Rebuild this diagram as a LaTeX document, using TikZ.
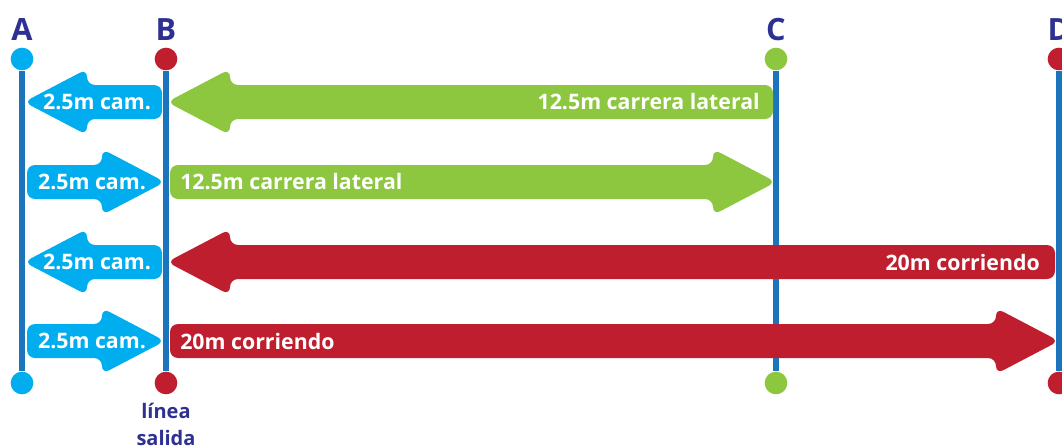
\documentclass[tikz,border=0pt]{standalone}
\usepackage{fontspec}
\setmainfont{Open Sans}
\usetikzlibrary{positioning}
\definecolor{cyanband}{RGB}{0,174,239}
\definecolor{greenband}{RGB}{141,198,63}
\definecolor{redband}{RGB}{190,30,45}
\definecolor{trackblue}{RGB}{28,117,188}
\definecolor{navy}{RGB}{46,49,146}
\tikzset{track/.style={line width=4.5pt,draw=trackblue},dot/.style={circle,fill=#1,minimum size=17pt,inner sep=0pt},letter/.style={font=\bfseries\fontsize{23}{23}\selectfont,text=navy,inner sep=0pt},lbl/.style={font=\bfseries\fontsize{16}{18}\selectfont,text=white,inner sep=0pt},note/.style={font=\bfseries\fontsize{15}{18}\selectfont,text=navy,inner sep=0pt,anchor=base},band/.style={fill=#1,rounded corners=6pt}}
% fat arrows: colour, tail x, tip x, row y
\newcommand{\bandright}[4]{\fill[band=#1] (#2,#4-17) -- (#3-60,#4-17) -- (#3-60,#4-33) -- (#3+3,#4) -- (#3-60,#4+33) -- (#3-60,#4+17) -- (#2,#4+17) -- cycle;}
\newcommand{\bandleft}[4]{\fill[band=#1] (#2,#4-17) -- (#3+60,#4-17) -- (#3+60,#4-33) -- (#3-3,#4) -- (#3+60,#4+33) -- (#3+60,#4+17) -- (#2,#4+17) -- cycle;}
\begin{document}
\begin{tikzpicture}[x=0.75pt,y=-0.75pt]
\useasboundingbox (0,0) rectangle (1062,446);
% lines A to D
\foreach \n/\x/\c in {A/22/cyanband,B/166/redband,C/776/greenband,D/1059/redband}{
  \node[dot=\c] (\n top) at (\x,59) {};
  \node[dot=\c] (\n bot) at (\x,383) {};
  \node[letter] (\n lab) at (\x,30) {\n};
  \draw[track] (\n top) -- (\n bot);
}
% row 1
\bandleft{cyanband}{162}{27}{102}
\bandleft{greenband}{773}{170}{102}
\node[lbl] (cam1) at (97,102) {2.5m cam.};
\node[lbl,anchor=east] (lat1) at (760,102) {12.5m carrera lateral};
% row 2
\bandright{cyanband}{27}{162}{182}
\bandright{greenband}{170}{773}{182}
\node[lbl] (cam2) at (92,182) {2.5m cam.};
\node[lbl,anchor=west] (lat2) at (180,182) {12.5m carrera lateral};
% row 3
\bandleft{cyanband}{162}{27}{262}
\bandleft{redband}{1055}{170}{262}
\node[lbl] (cam3) at (97,262) {2.5m cam.};
\node[lbl,anchor=east] (run3) at (1040,262) {20m corriendo};
% row 4
\bandright{cyanband}{27}{162}{341}
\bandright{redband}{170}{1056}{341}
\node[lbl] (cam4) at (92,341) {2.5m cam.};
\node[lbl,anchor=west] (run4) at (180,341) {20m corriendo};
% start line
\node[note] (linea) at (166,418) {línea};
\node[note] (salida) at (166,445) {salida};
\end{tikzpicture}
\end{document}
